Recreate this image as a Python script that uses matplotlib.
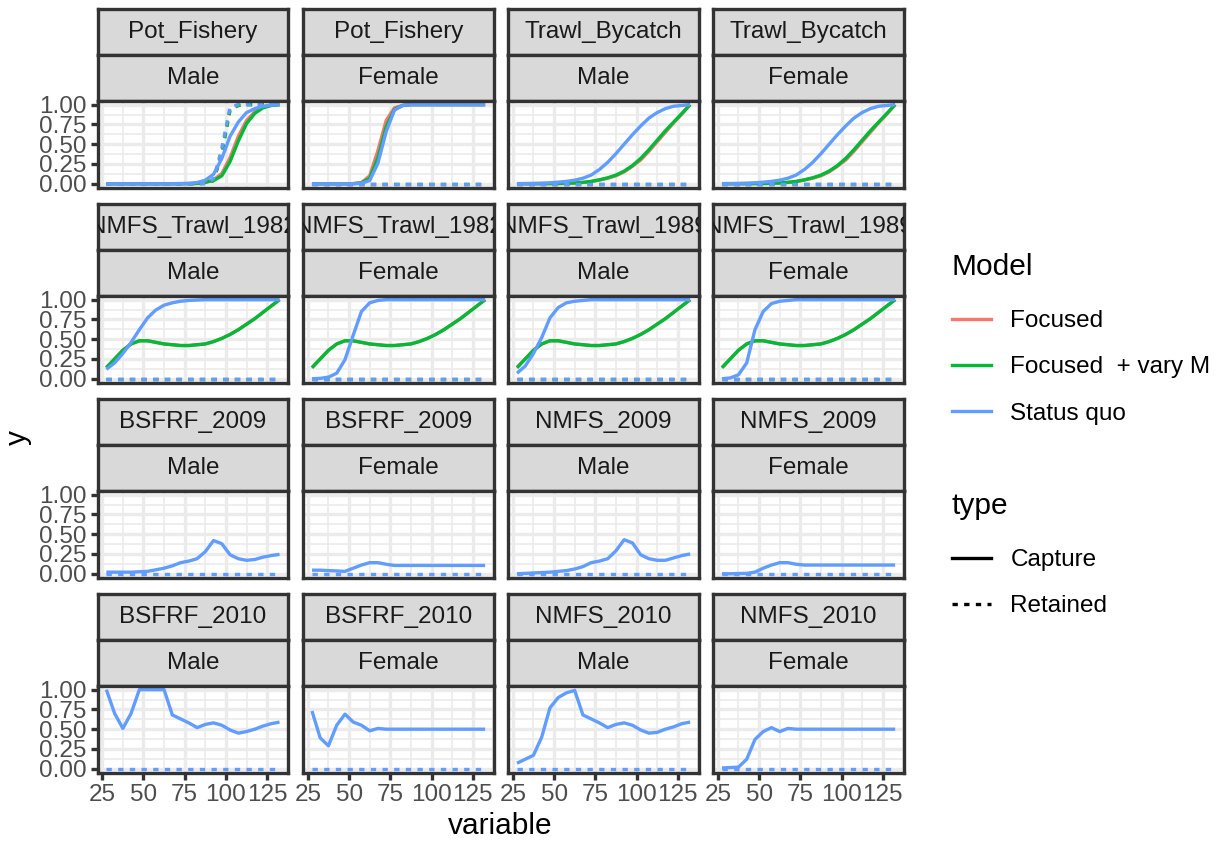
import matplotlib
matplotlib.use("Agg")
import matplotlib.pyplot as plt
from matplotlib.lines import Line2D

plt.rcParams["font.family"] = ["Liberation Sans", "DejaVu Sans"]

# size bins (mm carapace width midpoints)
sizes = [27.5, 32.5, 37.5, 42.5, 47.5, 52.5, 57.5, 62.5, 67.5, 72.5, 77.5,
         82.5, 87.5, 92.5, 97.5, 102.5, 107.5, 112.5, 117.5, 122.5, 127.5, 132.5]

models = ["Focused", "Focused  + vary M", "Status quo"]
model_colors = ["#F8766D", "#00BA38", "#619CFF"]
types = ["Capture", "Retained"]

x_ticks = [25, 50, 75, 100, 125]
y_ticks = [0, 0.25, 0.5, 0.75, 1.0]
y_ticklabels = ["0.00", "0.25", "0.50", "0.75", "1.00"]

none_retained = [0.0] * len(sizes)

# pot fishery, males
pot_m_foc = [0, 0, 0, 0, 0, 0, 0, 0, 0, 0, 0.001, 0.004, 0.015, 0.05, 0.13, 0.33, 0.6, 0.8, 0.91, 0.97, 0.99, 1.0]
pot_m_vary = [0, 0, 0, 0, 0, 0, 0, 0, 0, 0, 0.001, 0.004, 0.02, 0.04, 0.1, 0.28, 0.54, 0.76, 0.89, 0.96, 0.99, 1.0]
pot_m_sq = [0, 0, 0, 0, 0, 0, 0, 0, 0.001, 0.003, 0.006, 0.015, 0.045, 0.12, 0.32, 0.6, 0.78, 0.9, 0.95, 0.98, 0.995, 1.0]
pot_m_foc_ret = [0, 0, 0, 0, 0, 0, 0, 0, 0, 0, 0, 0, 0.003, 0.04, 0.4, 0.94, 0.99, 1.0, 1.0, 1.0, 1.0, 1.0]
pot_m_vary_ret = [0, 0, 0, 0, 0, 0, 0, 0, 0, 0, 0, 0, 0.003, 0.04, 0.38, 0.93, 0.99, 1.0, 1.0, 1.0, 1.0, 1.0]
pot_m_sq_ret = [0, 0, 0, 0, 0, 0, 0, 0, 0, 0, 0, 0, 0.005, 0.06, 0.45, 0.97, 1.0, 1.0, 1.0, 1.0, 1.0, 1.0]

# pot fishery, females
pot_f_foc = [0, 0, 0, 0, 0, 0.002, 0.015, 0.1, 0.42, 0.8, 0.96, 0.99, 1.0, 1.0, 1.0, 1.0, 1.0, 1.0, 1.0, 1.0, 1.0, 1.0]
pot_f_vary = [0, 0, 0, 0, 0, 0.001, 0.01, 0.07, 0.33, 0.72, 0.94, 0.99, 1.0, 1.0, 1.0, 1.0, 1.0, 1.0, 1.0, 1.0, 1.0, 1.0]
pot_f_sq = [0, 0, 0, 0, 0, 0.001, 0.005, 0.04, 0.26, 0.66, 0.93, 0.99, 1.0, 1.0, 1.0, 1.0, 1.0, 1.0, 1.0, 1.0, 1.0, 1.0]

# trawl bycatch (same for both sexes)
trawl_foc = [0, 0, 0, 0.001, 0.002, 0.003, 0.005, 0.009, 0.016, 0.027, 0.046, 0.07, 0.1, 0.15, 0.22, 0.3, 0.41, 0.53, 0.65, 0.77, 0.88, 1.0]
trawl_vary = [0, 0, 0, 0.001, 0.002, 0.003, 0.006, 0.01, 0.018, 0.03, 0.05, 0.075, 0.11, 0.16, 0.23, 0.32, 0.43, 0.55, 0.67, 0.78, 0.89, 1.0]
trawl_sq = [0.002, 0.003, 0.005, 0.008, 0.012, 0.02, 0.03, 0.045, 0.07, 0.11, 0.18, 0.27, 0.38, 0.5, 0.62, 0.73, 0.83, 0.9, 0.95, 0.98, 0.99, 1.0]

# NMFS trawl survey
nmfs_trawl_focused = [0.14, 0.25, 0.36, 0.44, 0.48, 0.48, 0.46, 0.44, 0.43, 0.42, 0.42, 0.43, 0.44, 0.47, 0.51, 0.56, 0.62, 0.69, 0.76, 0.84, 0.92, 1.0]
nmfs82_m_sq = [0.12, 0.2, 0.32, 0.46, 0.62, 0.77, 0.87, 0.93, 0.96, 0.98, 0.99, 0.995, 1.0, 1.0, 1.0, 1.0, 1.0, 1.0, 1.0, 1.0, 1.0, 1.0]
nmfs82_f_sq = [0.0, 0.005, 0.02, 0.07, 0.24, 0.55, 0.85, 0.96, 0.99, 1.0, 1.0, 1.0, 1.0, 1.0, 1.0, 1.0, 1.0, 1.0, 1.0, 1.0, 1.0, 1.0]
nmfs89_m_sq = [0.07, 0.16, 0.32, 0.52, 0.77, 0.9, 0.96, 0.98, 0.99, 1.0, 1.0, 1.0, 1.0, 1.0, 1.0, 1.0, 1.0, 1.0, 1.0, 1.0, 1.0, 1.0]
nmfs89_f_sq = [0.0, 0.01, 0.05, 0.2, 0.62, 0.85, 0.95, 0.98, 0.99, 1.0, 1.0, 1.0, 1.0, 1.0, 1.0, 1.0, 1.0, 1.0, 1.0, 1.0, 1.0, 1.0]

# BSFRF / NMFS side-by-side surveys
bsfrf09_m = [0.02, 0.02, 0.02, 0.02, 0.025, 0.03, 0.05, 0.07, 0.1, 0.14, 0.16, 0.19, 0.28, 0.42, 0.38, 0.24, 0.19, 0.17, 0.18, 0.21, 0.23, 0.245]
bsfrf09_f = [0.045, 0.045, 0.04, 0.035, 0.03, 0.07, 0.11, 0.14, 0.14, 0.12, 0.105, 0.105, 0.105, 0.105, 0.105, 0.105, 0.105, 0.105, 0.105, 0.105, 0.105, 0.105]
nmfs09_m = [0.0, 0.005, 0.01, 0.015, 0.02, 0.03, 0.04, 0.06, 0.09, 0.14, 0.16, 0.19, 0.29, 0.43, 0.39, 0.24, 0.19, 0.17, 0.17, 0.2, 0.23, 0.25]
nmfs09_f = [0.0, 0.0, 0.003, 0.005, 0.02, 0.07, 0.11, 0.14, 0.14, 0.12, 0.11, 0.11, 0.11, 0.11, 0.11, 0.11, 0.11, 0.11, 0.11, 0.11, 0.11, 0.11]
bsfrf10_m = [1.0, 0.7, 0.51, 0.7, 1.0, 1.0, 1.0, 1.0, 0.68, 0.63, 0.58, 0.52, 0.56, 0.58, 0.55, 0.49, 0.45, 0.47, 0.5, 0.54, 0.57, 0.59]
bsfrf10_f = [0.73, 0.39, 0.29, 0.55, 0.69, 0.59, 0.55, 0.48, 0.51, 0.5, 0.5, 0.5, 0.5, 0.5, 0.5, 0.5, 0.5, 0.5, 0.5, 0.5, 0.5, 0.5]
nmfs10_m = [0.07, 0.12, 0.17, 0.4, 0.77, 0.9, 0.96, 0.99, 0.68, 0.63, 0.58, 0.52, 0.56, 0.58, 0.55, 0.49, 0.45, 0.46, 0.5, 0.53, 0.57, 0.59]
nmfs10_f = [0.01, 0.015, 0.02, 0.12, 0.37, 0.47, 0.52, 0.47, 0.51, 0.5, 0.5, 0.5, 0.5, 0.5, 0.5, 0.5, 0.5, 0.5, 0.5, 0.5, 0.5, 0.5]


def all_models(cap, ret):
    return {m: {"Capture": c, "Retained": r} for m, c, r in zip(models, cap, ret)}


def status_quo_only(cap):
    return {"Status quo": {"Capture": cap, "Retained": none_retained}}


zeros3 = [none_retained] * 3
facets = [
    ("Pot_Fishery", "Male", all_models([pot_m_foc, pot_m_vary, pot_m_sq], [pot_m_foc_ret, pot_m_vary_ret, pot_m_sq_ret])),
    ("Pot_Fishery", "Female", all_models([pot_f_foc, pot_f_vary, pot_f_sq], zeros3)),
    ("Trawl_Bycatch", "Male", all_models([trawl_foc, trawl_vary, trawl_sq], zeros3)),
    ("Trawl_Bycatch", "Female", all_models([trawl_foc, trawl_vary, trawl_sq], zeros3)),
    ("NMFS_Trawl_1982", "Male", all_models([nmfs_trawl_focused, nmfs_trawl_focused, nmfs82_m_sq], zeros3)),
    ("NMFS_Trawl_1982", "Female", all_models([nmfs_trawl_focused, nmfs_trawl_focused, nmfs82_f_sq], zeros3)),
    ("NMFS_Trawl_1989", "Male", all_models([nmfs_trawl_focused, nmfs_trawl_focused, nmfs89_m_sq], zeros3)),
    ("NMFS_Trawl_1989", "Female", all_models([nmfs_trawl_focused, nmfs_trawl_focused, nmfs89_f_sq], zeros3)),
    ("BSFRF_2009", "Male", status_quo_only(bsfrf09_m)),
    ("BSFRF_2009", "Female", status_quo_only(bsfrf09_f)),
    ("NMFS_2009", "Male", status_quo_only(nmfs09_m)),
    ("NMFS_2009", "Female", status_quo_only(nmfs09_f)),
    ("BSFRF_2010", "Male", status_quo_only(bsfrf10_m)),
    ("BSFRF_2010", "Female", status_quo_only(bsfrf10_f)),
    ("NMFS_2010", "Male", status_quo_only(nmfs10_m)),
    ("NMFS_2010", "Female", status_quo_only(nmfs10_f)),
]

W, H = 1215, 844
fig = plt.figure(figsize=(W / 100, H / 100), dpi=100)

LW = 2.4
DASH = (0, (1.6, 1.9))
BORDER = "#333333"
SMALL, BIG = 17.5, 21.5


def px_axes(left, top, width, height):
    return fig.add_axes([left / W, 1 - (top + height) / H, width / W, height / H])


col_left = [97.7, 303.3, 508.3, 713.3]
row_top = [9.3, 204.3, 399.3, 594.3]
panel_w, strip_h, panel_h = 190.5, 45.7, 87.0

for i, (fleet, sex, curves) in enumerate(facets):
    r, c = divmod(i, 4)
    left, top = col_left[c], row_top[r]

    # two strip boxes on top of each panel
    for k, label in enumerate([fleet, sex]):
        sax = px_axes(left, top + k * strip_h, panel_w, strip_h)
        sax.set_facecolor("#D9D9D9")
        sax.set_xticks([])
        sax.set_yticks([])
        for sp in sax.spines.values():
            sp.set_color(BORDER)
            sp.set_linewidth(LW)
        sax.text(0.5, 0.5, label, ha="center", va="center", fontsize=SMALL,
                 color="#1A1A1A", transform=sax.transAxes, clip_on=True)

    ax = px_axes(left, top + 2 * strip_h, panel_w, panel_h)
    ax.set_xlim(22.25, 137.75)
    ax.set_ylim(-0.05, 1.05)
    ax.set_xticks(x_ticks)
    ax.set_xticks([37.5, 62.5, 87.5, 112.5, 137.5], minor=True)
    ax.set_yticks(y_ticks)
    ax.set_yticks([0.125, 0.375, 0.625, 0.875], minor=True)
    ax.set_yticklabels(y_ticklabels)
    ax.set_axisbelow(True)
    ax.grid(which="major", color="#EBEBEB", lw=2.4)
    ax.grid(which="minor", color="#EBEBEB", lw=1.2)
    for sp in ax.spines.values():
        sp.set_color(BORDER)
        sp.set_linewidth(LW)
        sp.set_zorder(5)

    for m, color in zip(models, model_colors):
        if m not in curves:
            continue
        for t in types:
            ls = "-" if t == "Capture" else DASH
            ax.plot(sizes, curves[m][t], color=color, lw=LW, ls=ls,
                    solid_capstyle="butt", dash_capstyle="butt")

    ax.tick_params(which="minor", length=0)
    ax.tick_params(which="major", length=5, width=LW, color=BORDER,
                   labelsize=SMALL, labelcolor="#4D4D4D", pad=3)
    if c != 0:
        ax.tick_params(left=False, labelleft=False)
    if r != 3:
        ax.tick_params(bottom=False, labelbottom=False)

fig.text(18 / W, 1 - 437 / H, "y", rotation=90, ha="center", va="center", fontsize=BIG)
fig.text(500 / W, 1 - 826 / H, "variable", ha="center", va="center", fontsize=BIG)

legend_kw = dict(loc="upper left", frameon=False, fontsize=SMALL,
                 title_fontsize=BIG, handlelength=1.6, handletextpad=0.8,
                 labelspacing=1.0, borderpad=0, borderaxespad=0,
                 alignment="left")

model_handles = [Line2D([], [], color=col, lw=LW) for col in model_colors]
leg = fig.legend(model_handles, models, title="Model",
                 bbox_to_anchor=(952 / W, 1 - 253 / H), **legend_kw)
leg._legend_box.sep = 21

type_handles = [Line2D([], [], color="black", lw=LW, ls=s) for s in ["-", DASH]]
leg = fig.legend(type_handles, types, title="type",
                 bbox_to_anchor=(952 / W, 1 - 492 / H), **legend_kw)
leg._legend_box.sep = 21

fig.savefig("out.png", dpi=100)
